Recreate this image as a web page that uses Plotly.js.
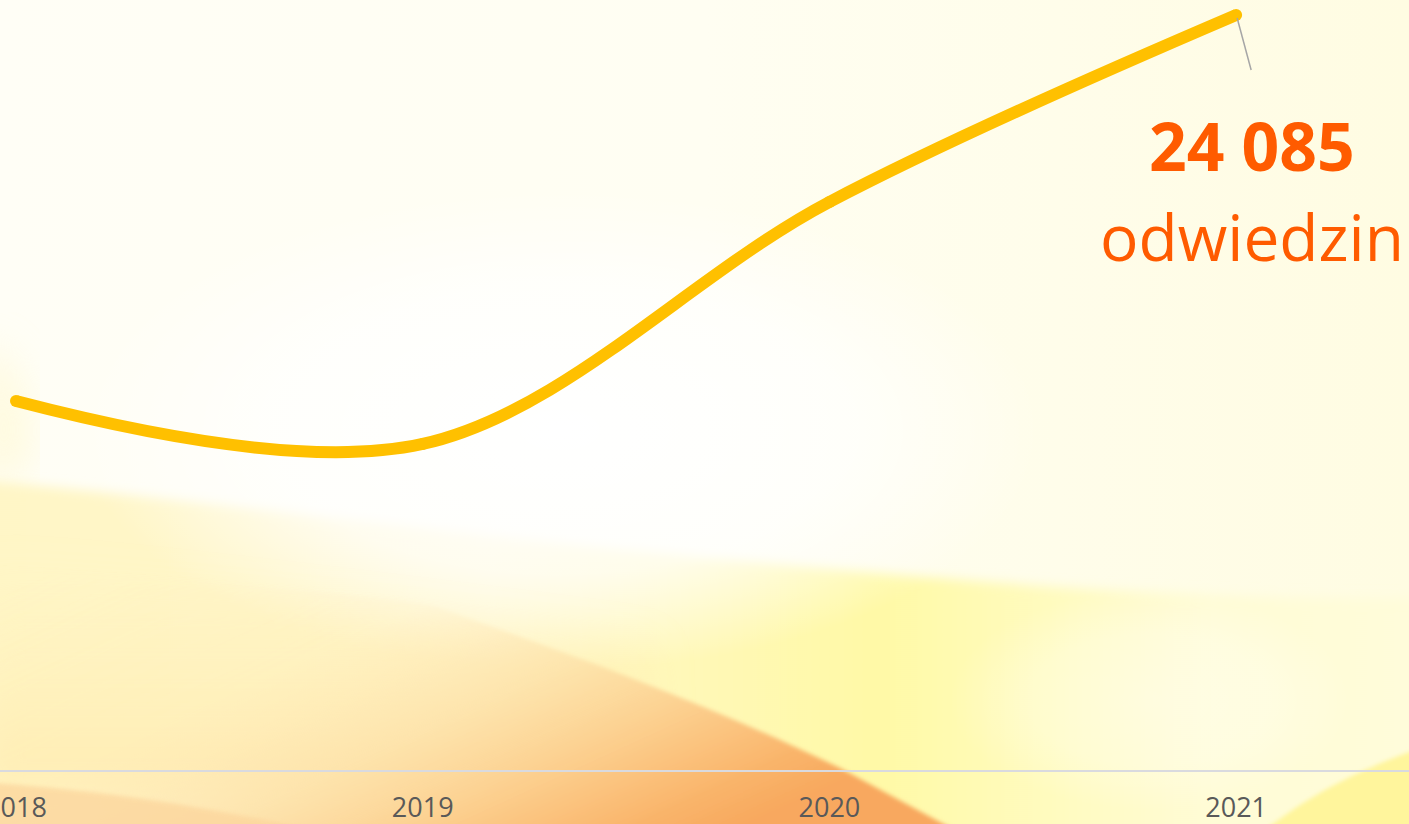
<!DOCTYPE html>
<html>
<head>
<meta charset="utf-8">
<script src="https://cdn.plot.ly/plotly-3.0.1.min.js"></script>
<style>
  html, body { margin: 0; padding: 0; width: 1409px; height: 824px; overflow: hidden; }
  #bg { position: absolute; left: 0; top: 0; width: 1409px; height: 824px; z-index: 0; }
  #chart { position: absolute; left: 0; top: 0; width: 1409px; height: 824px; z-index: 1; }
</style>
</head>
<body>
<svg id="bg" width="1409" height="824" viewBox="0 0 1409 824" xmlns="http://www.w3.org/2000/svg">
  <defs>
    <linearGradient id="gTop" x1="0" y1="0" x2="1" y2="0">
      <stop offset="0" stop-color="#FFFEF6"/>
      <stop offset="0.5" stop-color="#FFFEF2"/>
      <stop offset="1" stop-color="#FFFCE2"/>
    </linearGradient>
    <radialGradient id="gWhite" cx="0.5" cy="0.5" r="0.5">
      <stop offset="0" stop-color="#FFFFFF" stop-opacity="1"/>
      <stop offset="0.6" stop-color="#FFFFFF" stop-opacity="0.7"/>
      <stop offset="1" stop-color="#FFFFFF" stop-opacity="0"/>
    </radialGradient>
    <linearGradient id="gYel" x1="0" y1="0" x2="1" y2="0">
      <stop offset="0" stop-color="#FFF6C6"/>
      <stop offset="0.35" stop-color="#FFF7CA"/>
      <stop offset="0.62" stop-color="#FFF9A6"/>
      <stop offset="0.85" stop-color="#FFFCD6"/>
      <stop offset="1" stop-color="#FFFCDA"/>
    </linearGradient>
    <linearGradient id="gLow" x1="0" y1="0" x2="0" y2="1">
      <stop offset="0" stop-color="#FFF0B4" stop-opacity="0"/>
      <stop offset="1" stop-color="#FEEAAA" stop-opacity="0.7"/>
    </linearGradient>
    <linearGradient id="gOr" x1="0" y1="0" x2="1" y2="0.6">
      <stop offset="0" stop-color="#FEEBC0" stop-opacity="0"/>
      <stop offset="0.4" stop-color="#FEE8B8" stop-opacity="0.15"/>
      <stop offset="0.6" stop-color="#FDE0A8" stop-opacity="0.75"/>
      <stop offset="0.78" stop-color="#FCCC8A"/>
      <stop offset="0.92" stop-color="#F9B46A"/>
      <stop offset="1" stop-color="#F8A85E"/>
    </linearGradient>
    <filter id="blur" x="-10%" y="-10%" width="120%" height="120%">
      <feGaussianBlur stdDeviation="6"/>
    </filter>
    <filter id="blurS" x="-10%" y="-10%" width="120%" height="120%">
      <feGaussianBlur stdDeviation="2"/>
    </filter>
    <filter id="blur2" x="-20%" y="-20%" width="140%" height="140%">
      <feGaussianBlur stdDeviation="20"/>
    </filter>
  </defs>
  <rect x="0" y="0" width="1409" height="824" fill="url(#gTop)"/>
  <path d="M -20,340 C 30,370 40,430 20,480 L -20,480 Z" fill="#FFF8CC" filter="url(#blur2)" opacity="0.6"/>
  <path d="M -20,480 C 250,505 500,540 760,562 C 1000,585 1200,600 1430,598 L 1430,840 L -20,840 Z" fill="url(#gYel)" filter="url(#blur)"/>
  <ellipse cx="560" cy="430" rx="480" ry="240" fill="url(#gWhite)"/>
  <ellipse cx="1150" cy="700" rx="200" ry="110" fill="url(#gWhite)" opacity="0.35"/>
  <path d="M -20,560 L 650,650 L 650,790 L -20,790 Z" fill="url(#gLow)" filter="url(#blur2)"/>
  <path d="M -20,565 C 150,580 330,590 430,605 C 560,650 700,700 840,768 L 962,834 L -20,834 Z" fill="url(#gOr)" filter="url(#blurS)"/>
  <path d="M -20,782 C 100,790 200,805 330,834 L -20,834 Z" fill="#FCD59C" filter="url(#blurS)" opacity="0.75"/>
  <path d="M 1265,830 C 1310,795 1360,768 1430,745 L 1430,830 Z" fill="#FFF59C" filter="url(#blurS)"/>
</svg>
<div id="chart"></div>
<script>
  // ---- data ----
  var years = ['2018', '2019', '2020', '2021'];
  var visits = [11770, 10400, 18120, 24085];
  var highlightValue = '24 085';
  var highlightLabel = 'odwiedzin';

  var trace = {
    type: 'scatter',
    mode: 'lines+markers',
    x: years,
    y: visits,
    line: { color: '#FFC000', width: 12, shape: 'spline', smoothing: 1 },
    marker: { color: '#FFC000', size: 12 },
    cliponaxis: false,
    hoverinfo: 'x+y'
  };

  var lastIdx = years.length - 1;
  var xRange = [-0.0393, 3.425];
  var yRange = [0, 24563];

  // leader line anchor (paper coords derived from the last data point)
  var px = (lastIdx - xRange[0]) / (xRange[1] - xRange[0]);
  var py = (visits[lastIdx] - yRange[0]) / (yRange[1] - yRange[0]);
  var plotW = 1409, plotH = 770;

  var layout = {
    width: 1409,
    height: 824,
    margin: { l: 0, r: 0, t: 0, b: 54, pad: 0 },
    paper_bgcolor: 'rgba(0,0,0,0)',
    plot_bgcolor: 'rgba(0,0,0,0)',
    showlegend: false,
    xaxis: {
      type: 'category',
      range: xRange,
      showgrid: false,
      zeroline: false,
      showline: true,
      linecolor: '#D9DADF',
      linewidth: 2,
      ticks: '',
      ticklabelstandoff: 13,
      tickfont: { family: 'Open Sans, sans-serif', size: 27, color: '#595959' }
    },
    yaxis: {
      range: yRange,
      visible: false,
      showgrid: false,
      zeroline: false
    },
    shapes: [
      {
        type: 'line', layer: 'above',
        xref: 'paper', yref: 'paper',
        x0: px + 1 / plotW, x1: px + 15 / plotW,
        y0: py - 3 / plotH, y1: py - 55 / plotH,
        line: { color: '#A6A6A6', width: 1.5 }
      }
    ],
    annotations: [
      {
        x: 1252 / 1409, y: (770 - 145) / 770, xref: 'paper', yref: 'paper',
        xanchor: 'center', yanchor: 'middle', showarrow: false,
        text: '<b>' + highlightValue + '</b>',
        font: { family: 'Open Sans, sans-serif', size: 66, color: '#FF5B00' }
      },
      {
        x: 1252 / 1409, y: (770 - 236) / 770, xref: 'paper', yref: 'paper',
        xanchor: 'center', yanchor: 'middle', showarrow: false,
        text: highlightLabel,
        font: { family: 'Open Sans, sans-serif', size: 64, color: '#FF5B00' }
      }
    ]
  };

  Plotly.newPlot('chart', [trace], layout, { displayModeBar: false, staticPlot: true });
</script>
</body>
</html>
